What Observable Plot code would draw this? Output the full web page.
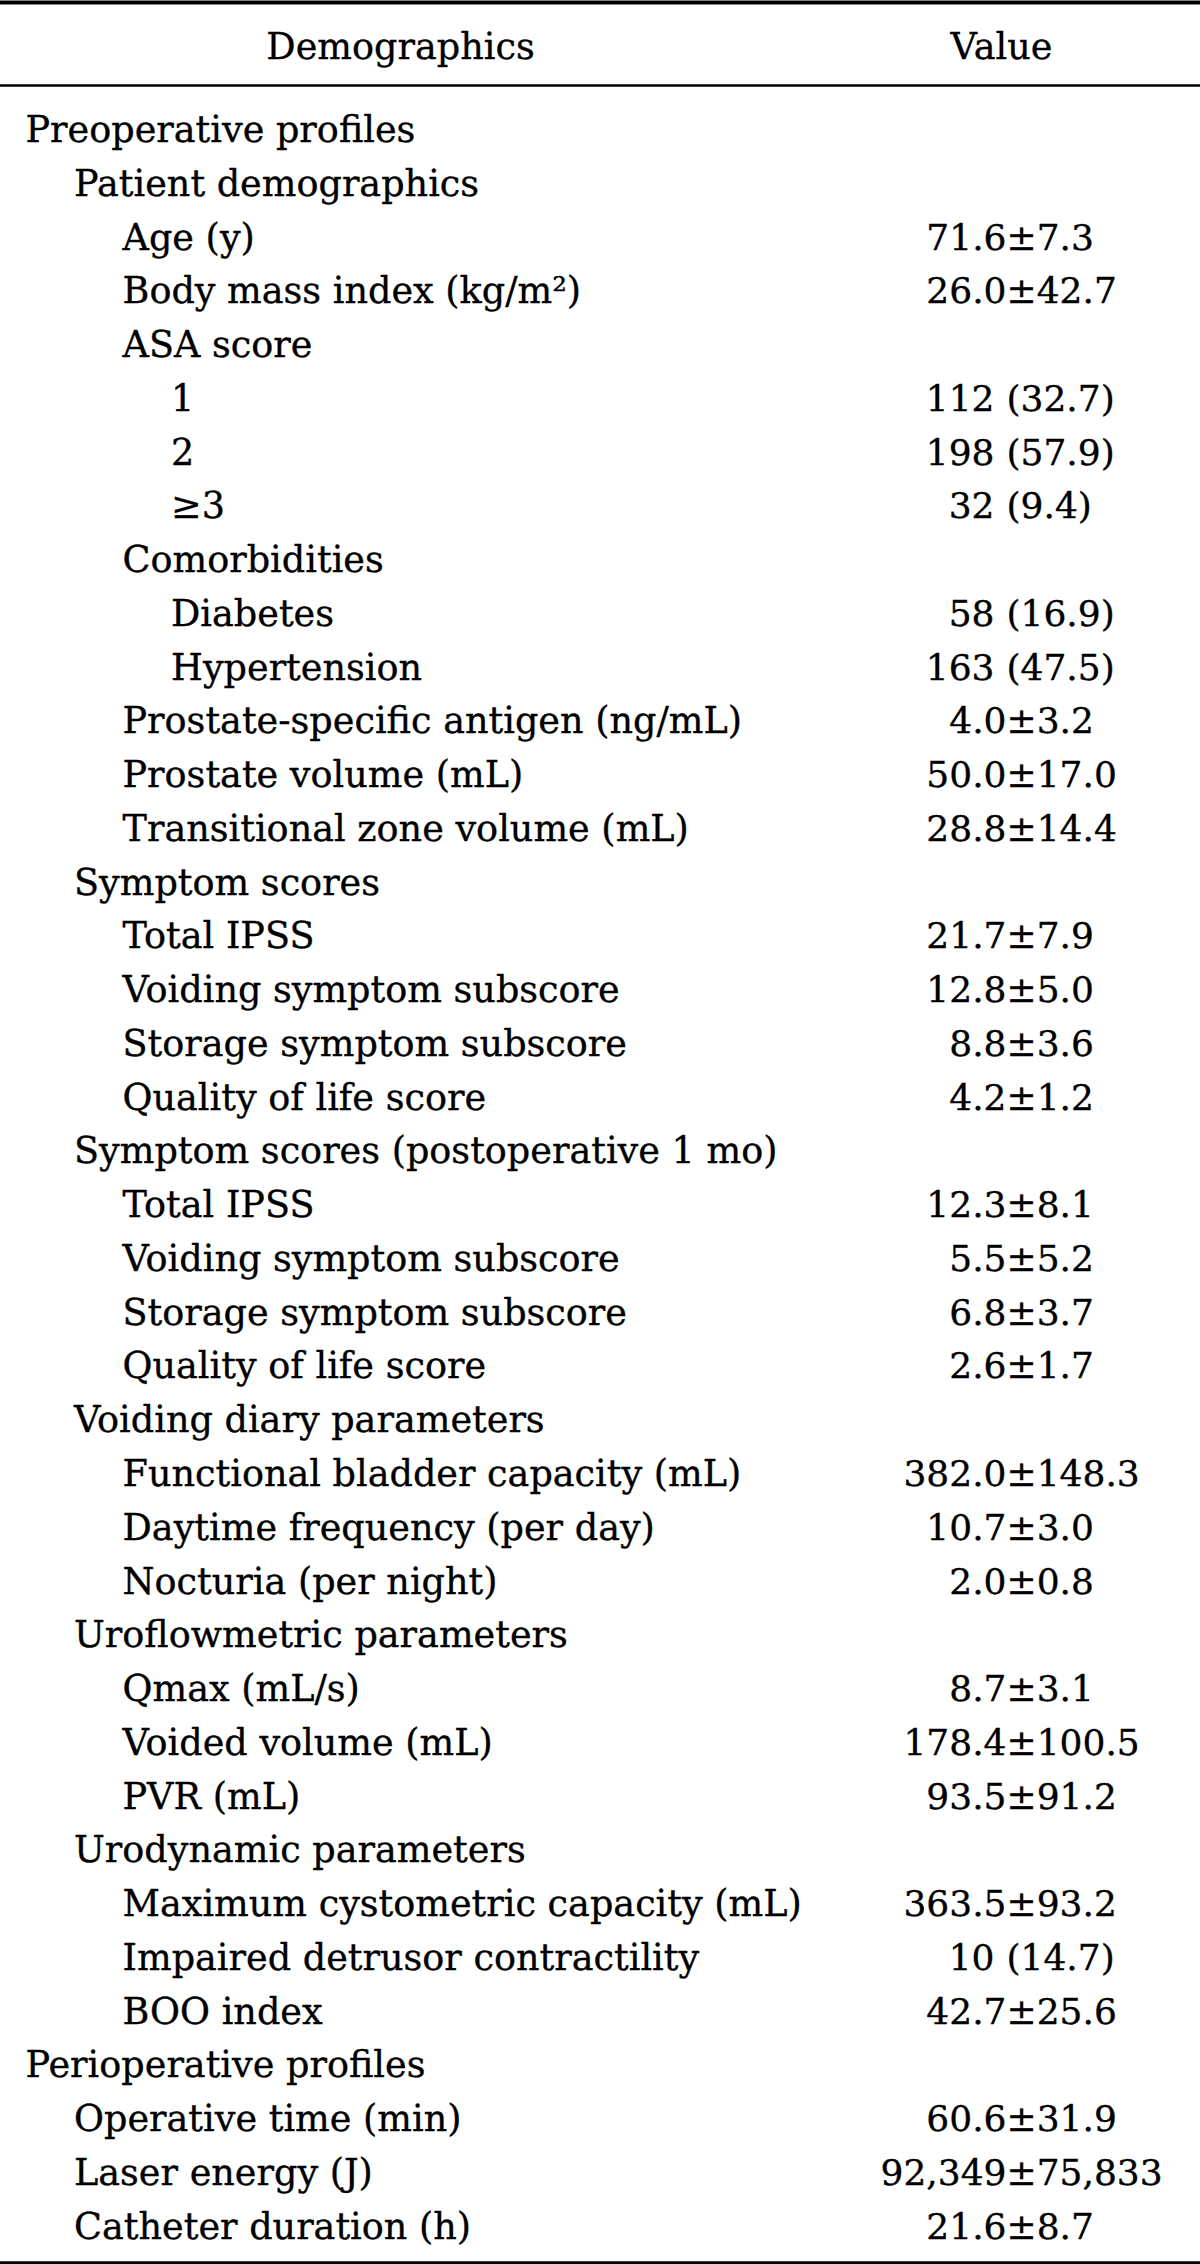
<!DOCTYPE html>
<html>
<head>
<meta charset="utf-8">
<script src="https://cdn.jsdelivr.net/npm/d3@7"></script>
<script src="https://cdn.jsdelivr.net/npm/@observablehq/plot@0.6"></script>
<style>
  html, body { margin: 0; padding: 0; background: #fff; }
  #chart svg { display: block; }
</style>
</head>
<body>
<div id="chart"></div>
<script>
// ---- Data ----
const headers = ["Demographics", "Value"];

const labels = [
  "Preoperative profiles",
  "Patient demographics",
  "Age (y)",
  "Body mass index (kg/m²)",
  "ASA score",
  "1",
  "2",
  "≥3",
  "Comorbidities",
  "Diabetes",
  "Hypertension",
  "Prostate-specific antigen (ng/mL)",
  "Prostate volume (mL)",
  "Transitional zone volume (mL)",
  "Symptom scores",
  "Total IPSS",
  "Voiding symptom subscore",
  "Storage symptom subscore",
  "Quality of life score",
  "Symptom scores (postoperative 1 mo)",
  "Total IPSS",
  "Voiding symptom subscore",
  "Storage symptom subscore",
  "Quality of life score",
  "Voiding diary parameters",
  "Functional bladder capacity (mL)",
  "Daytime frequency (per day)",
  "Nocturia (per night)",
  "Uroflowmetric parameters",
  "Qmax (mL/s)",
  "Voided volume (mL)",
  "PVR (mL)",
  "Urodynamic parameters",
  "Maximum cystometric capacity (mL)",
  "Impaired detrusor contractility",
  "BOO index",
  "Perioperative profiles",
  "Operative time (min)",
  "Laser energy (J)",
  "Catheter duration (h)"
];

const levels = [0,1,2,2,2,3,3,3,2,3,3,2,2,2,1,2,2,2,2,1,2,2,2,2,1,2,2,2,1,2,2,2,1,2,2,2,0,1,1,1];

const values = [
  "", "", "71.6±7.3", "26.0±42.7", "",
  "112 (32.7)", "198 (57.9)", "32 (9.4)", "",
  "58 (16.9)", "163 (47.5)",
  "4.0±3.2", "50.0±17.0", "28.8±14.4", "",
  "21.7±7.9", "12.8±5.0", "8.8±3.6", "4.2±1.2", "",
  "12.3±8.1", "5.5±5.2", "6.8±3.7", "2.6±1.7", "",
  "382.0±148.3", "10.7±3.0", "2.0±0.8", "",
  "8.7±3.1", "178.4±100.5", "93.5±91.2", "",
  "363.5±93.2", "10 (14.7)", "42.7±25.6", "",
  "60.6±31.9", "92,349±75,833", "21.6±8.7"
];

// ---- Layout (not data) ----
const W = 1200, H = 2264;
const FONT = "'DejaVu Serif', serif";
const FS_LABEL = 36.6, FS_VALUE = 36;
const X0 = 25, INDENT = 48.5;
const BASE0 = 141.5, ROW = 53.76;
const HEADER_BASE = 58;
const HEADER_X = [400, 1001];
const ANCHOR = 1006, GAP = 12;
const TXT = {lineAnchor: "bottom", fill: "#000", stroke: "#000", strokeWidth: 0.35};

const rows = labels.map((label, i) => ({i, label, level: levels[i], value: values[i]}));
const valueRows = rows.filter(d => d.value).map(d => {
  const v = d.value;
  let left, right, sep;
  if (v.includes("±")) { const k = v.indexOf("±"); left = v.slice(0, k); right = v.slice(k); sep = "±"; }
  else { const k = v.indexOf(" ("); left = v.slice(0, k); right = v.slice(k + 1); sep = "("; }
  return {...d, left, right, sep};
});
const headerRows = headers.map((h, j) => ({h, j}));

const chart = Plot.plot({
  width: W,
  height: H,
  margin: 0,
  x: {type: "identity", axis: null},
  y: {type: "identity", axis: null},
  style: {fontFamily: FONT, background: "#fff", color: "#000"},
  marks: [
    Plot.ruleY([2], {stroke: "#000", strokeWidth: 4}),
    Plot.ruleY([85], {stroke: "#000", strokeWidth: 2.5}),
    Plot.ruleY([2262.5], {stroke: "#000", strokeWidth: 3.5}),
    Plot.text(headerRows, {
      ...TXT, fontSize: FS_LABEL, x: d => HEADER_X[d.j], y: () => HEADER_BASE, text: "h", textAnchor: "middle"
    }),
    Plot.text(rows, {
      ...TXT, fontSize: FS_LABEL, x: d => X0 + d.level * INDENT, y: d => BASE0 + d.i * ROW, text: "label", textAnchor: "start"
    }),
    Plot.text(valueRows, {
      ...TXT, fontSize: FS_VALUE, x: d => d.sep === "(" ? ANCHOR - GAP : ANCHOR, y: d => BASE0 + d.i * ROW, text: "left", textAnchor: "end"
    }),
    Plot.text(valueRows, {
      ...TXT, fontSize: FS_VALUE, x: () => ANCHOR, y: d => BASE0 + d.i * ROW, text: "right", textAnchor: "start"
    })
  ]
});
document.getElementById("chart").appendChild(chart);
</script>
</body>
</html>
